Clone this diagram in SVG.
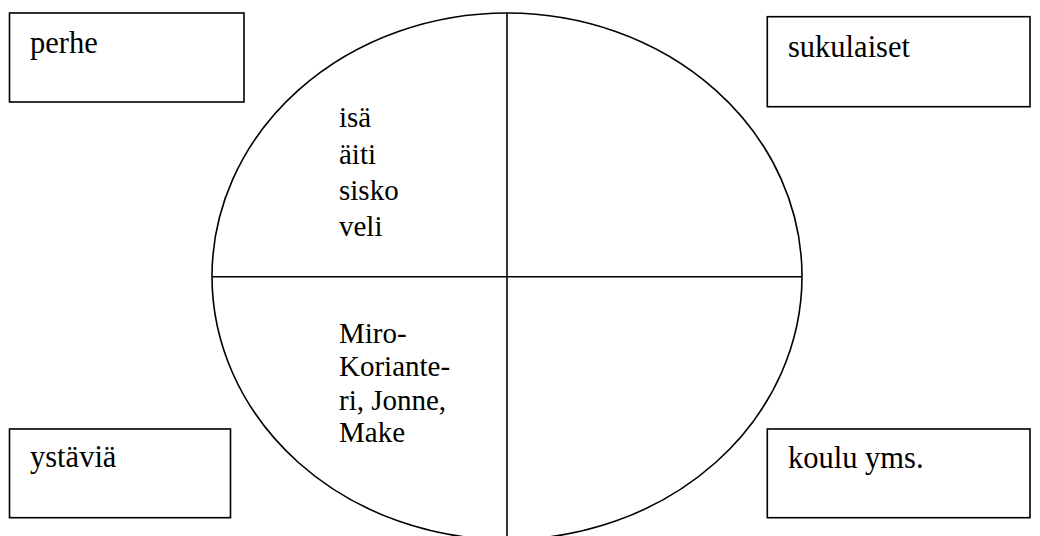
<svg xmlns="http://www.w3.org/2000/svg" width="1040" height="536" viewBox="0 0 1040 536">
<style>
.box{fill:#fff;stroke:#000;stroke-width:1.6}
.ln{fill:none;stroke:#000;stroke-width:1.6}
text{font-family:"Liberation Serif","Times New Roman",serif;font-size:29px;fill:#000}
.lbl{font-size:30.5px}
</style>
<rect width="1040" height="536" fill="#fff"/>
<g id="connectors">
<ellipse class="ln" cx="507" cy="276.3" rx="295" ry="263.3"/>
<line class="ln" x1="507" y1="13" x2="507" y2="536"/>
<line class="ln" x1="212" y1="276.7" x2="802" y2="276.7"/>
</g>
<g id="perhe">
<rect class="box" x="9.5" y="13" width="234.5" height="89"/>
<text class="lbl" x="30" y="53">perhe</text>
</g>
<g id="sukulaiset">
<rect class="box" x="767.3" y="16.7" width="262.7" height="90"/>
<text class="lbl" x="788" y="56.7">sukulaiset</text>
</g>
<g id="ystavia">
<rect class="box" x="9.5" y="429" width="221" height="88.7"/>
<text class="lbl" x="30" y="466.7">ystäviä</text>
</g>
<g id="koulu">
<rect class="box" x="767.3" y="429" width="262.7" height="88.7"/>
<text class="lbl" x="788" y="468">koulu yms.</text>
</g>
<g id="perhe-list">
<text x="339" y="127">isä</text>
<text x="339" y="163.5">äiti</text>
<text x="339" y="200">sisko</text>
<text x="339" y="236">veli</text>
</g>
<g id="ystavat-list">
<text x="339" y="343">Miro-</text>
<text x="339" y="375.5">Koriante-</text>
<text x="339" y="410">ri, Jonne,</text>
<text x="339" y="441.5">Make</text>
</g>
</svg>
